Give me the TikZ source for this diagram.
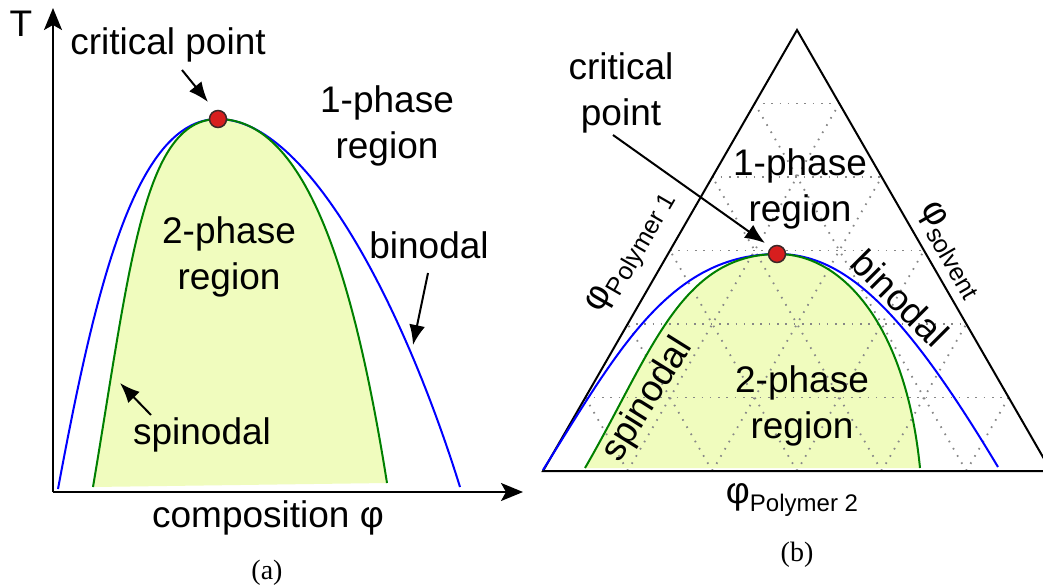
\documentclass[tikz,border=0pt]{standalone}
\usepackage{fontspec}
\setmainfont{Liberation Sans}
\newfontfamily\capfont{Liberation Serif}
\usetikzlibrary{arrows.meta,calc}
\definecolor{binc}{RGB}{0,0,255}
\definecolor{spic}{RGB}{0,128,0}
\definecolor{fillc}{RGB}{240,252,190}
\definecolor{dotc}{RGB}{215,30,30}
\definecolor{dotline}{RGB}{60,40,40}
\definecolor{gridc}{RGB}{135,135,135}
\begin{document}
\begin{tikzpicture}[x=1pt,y=-1pt,
  lbl/.style={font=\fontsize{37}{46}\selectfont, inner sep=0pt, align=center},
  caplbl/.style={font=\capfont\fontsize{28}{32}\selectfont, inner sep=0pt},
  arr/.style={line width=2pt, -{Latex[length=20pt,width=16pt]}},
  axisline/.style={line width=2pt, -{Stealth[length=22pt,width=18pt,inset=5pt]}},
  bino/.style={binc, line width=2pt},
  spino/.style={spic, line width=2pt},
  region/.style={fillc},
  gridline/.style={gridc, line width=1.8pt, dash pattern=on 1.6pt off 6.7pt},
  cdot/.style={circle, fill=dotc, draw=dotline, line width=1.5pt, minimum size=17pt, inner sep=0pt},
  tri/.style={black, line width=2pt}
]
\clip (0,0) rectangle (1043,588);
\fill[white] (0,0) rectangle (1043,588);

% ---------------- panel (a) ----------------
\coordinate (aSL) at (93,487);
\coordinate (aSR) at (387,483);
\coordinate (aBL) at (58,489);
\coordinate (aBR) at (460,487);
\coordinate (aP) at (218,119);
\fill[region] (aSL) .. controls (130,267) and (143,119) .. (aP)
  .. controls (303,119) and (352,263) .. (aSR) -- cycle;
\draw[bino] (aBL) .. controls (95,290) and (135,119) .. (aP)
  .. controls (308,119) and (404,307) .. (aBR);
\draw[spino] (aSL) .. controls (130,267) and (143,119) .. (aP)
  .. controls (303,119) and (352,263) .. (aSR);

\coordinate (O) at (53,492);
\coordinate (Ytip) at (53,8);
\coordinate (Xtip) at (523,492);
\draw[axisline] (O) -- (Ytip);
\draw[axisline] (O) -- (Xtip);

\node[cdot] (cpa) at (aP) {};
\node[lbl] (T) at (21,24) {T};
\node[lbl] (crita) at (168,45) {critical point};
\node[lbl] (onea) at (387,126) {1-phase\\region};
\node[lbl] (twoa) at (229,257) {2-phase\\region};
\node[lbl] (bina) at (429,245) {binodal};
\node[lbl] (spia) at (202,435) {spinodal};
\node[lbl] (compa) at (268,518) {composition φ};
\node[caplbl] (capa) at (267,573) {(a)};

\coordinate (ca1) at (182,70);
\coordinate (ca2) at (208,102);
\draw[arr] (ca1) -- (ca2);
\coordinate (ba1) at (428,273);
\coordinate (ba2) at (413,345);
\draw[arr] (ba1) -- (ba2);
\coordinate (sa1) at (151,415);
\coordinate (sa2) at (120,383);
\draw[arr] (sa1) -- (sa2);

% ---------------- panel (b) ----------------
\coordinate (A) at (543,471);
\coordinate (B) at (1051,471);
\coordinate (C) at (797,30);
\coordinate (bSL) at (585,468);
\coordinate (bSR) at (920,468);
\coordinate (bBL) at (543,470);
\coordinate (bBR) at (998,467);
\coordinate (bP) at (778,254);

\fill[region] (bSL) .. controls (651,354) and (680,254) .. (bP)
  .. controls (838,254) and (905,318) .. (bSR) -- cycle;

\foreach \k [evaluate=\k as \t using \k/6, evaluate=\k as \u using 1-\k/6] in {1,...,5} {
  \draw[gridline] ($(A)!\t!(C)$) -- ($(B)!\t!(C)$);
  \draw[gridline] ($(A)!\t!(B)$) -- ($(B)!\u!(C)$);
  \draw[gridline] ($(A)!\t!(B)$) -- ($(A)!\t!(C)$);
}

\draw[tri] (A) -- (C) -- (B) -- cycle;

\draw[bino] (bBL) .. controls (618,350) and (670,254) .. (bP)
  .. controls (848,254) and (908,317) .. (bBR);
\draw[spino] (bSL) .. controls (651,354) and (680,254) .. (bP)
  .. controls (838,254) and (905,318) .. (bSR);

\node[cdot] (cpb) at (777,254) {};
\node[lbl] (critb) at (621,93) {critical\\point};
\node[lbl] (oneb) at (800,189) {1-phase\\region};
\node[lbl] (twob) at (802,406) {2-phase\\region};
\node[lbl, rotate=-45] (binb) at (900,298) {binodal};
\node[lbl, rotate=58] (spib) at (648,400) {spinodal};
\node[lbl, rotate=60] (p1) at (632,253) {φ\raisebox{-8pt}{\fontsize{25}{28}\selectfont Polymer 1}};
\node[lbl, rotate=-60] (ps) at (951,250) {φ\raisebox{-8pt}{\fontsize{25}{28}\selectfont solvent}};
\node[lbl] (p2) at (792,500) {φ\raisebox{-8pt}{\fontsize{24}{28}\selectfont Polymer 2}};
\node[caplbl] (capb) at (797,555) {(b)};

\coordinate (cb1) at (613,135);
\coordinate (cb2) at (765,243);
\draw[arr] (cb1) -- (cb2);
\end{tikzpicture}
\end{document}
